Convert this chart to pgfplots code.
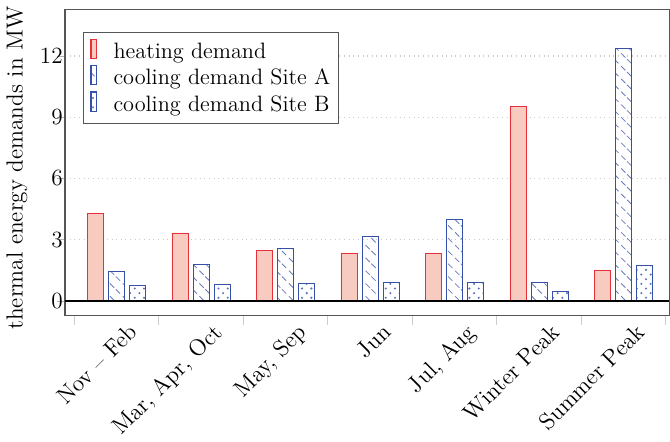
\documentclass[border=0pt]{standalone}
\usepackage{pgfplots}
\pgfplotsset{compat=1.18}
\usetikzlibrary{patterns}

\definecolor{heatred}{HTML}{E8303A}
\definecolor{heatfill}{HTML}{F8CBC0}
\definecolor{coolblue}{HTML}{3550A8}
\definecolor{framegray}{HTML}{555555}

% broken diagonal hatching and staggered dots for the cooling bars
\pgfdeclarepatternformonly{sparse nw lines}{\pgfqpoint{-1pt}{-1pt}}{\pgfqpoint{8pt}{8pt}}{\pgfqpoint{6.6pt}{6.6pt}}{%
  \pgfsetlinewidth{0.4pt}%
  \pgfpathmoveto{\pgfqpoint{0.4pt}{6.2pt}}%
  \pgfpathlineto{\pgfqpoint{2.6pt}{4.0pt}}%
  \pgfpathmoveto{\pgfqpoint{4.0pt}{2.6pt}}%
  \pgfpathlineto{\pgfqpoint{6.2pt}{0.4pt}}%
  \pgfusepath{stroke}}
\pgfdeclarepatternformonly{sparse dots}{\pgfqpoint{-1pt}{-1pt}}{\pgfqpoint{6pt}{6pt}}{\pgfqpoint{4.8pt}{4.8pt}}{%
  \pgfpathcircle{\pgfqpoint{0pt}{0pt}}{0.6pt}%
  \pgfpathcircle{\pgfqpoint{2.4pt}{2.4pt}}{0.6pt}%
  \pgfusepath{fill}}

\pgfplotstableread{
x heat coolA coolB
0 4.30 1.44 0.74
1 3.33 1.79 0.79
2 2.46 2.56 0.86
3 2.35 3.16 0.90
4 2.32 3.99 0.93
5 9.52 0.91 0.47
6 1.49 12.36 1.73
}\demand

\begin{document}
\begin{tikzpicture}[font=\large]
\begin{axis}[
  width=312pt, height=158pt, scale only axis,
  ybar, bar width=0.19, bar shift auto=false,
  xmin=-0.61, xmax=6.54,
  ymin=-0.7, ymax=14.3,
  xtick={0,...,6},
  xticklabels={Nov -- Feb, {Mar, Apr, Oct}, {May, Sep}, Jun, {Jul, Aug}, Winter Peak, Summer Peak},
  x tick label style={xshift=5.5pt, yshift=2pt, rotate=45, anchor=north east, inner sep=1pt, font=\large},
  y tick label style={font=\large, inner xsep=1pt, xshift=4pt},
  major x tick style={draw=none},
  minor xtick={-0.5,0.5,...,6.5},
  minor x tick style={gray!40, thin},
  minor tick length=5pt,
  tick align=outside,
  ytick={0,3,6,9,12},
  y tick style={gray!60},
  major tick length=4pt,
  ymajorgrids,
  major grid style={gray!40, dotted, thick},
  axis line style={framegray, semithick},
  xtick pos=bottom, ytick pos=left,
  ylabel={thermal energy demands in MW},
  ylabel style={font=\large, yshift=2pt, xshift=-3pt},
  legend style={at={(axis description cs:0.03,0.925)}, anchor=north west,
    draw=framegray, semithick, cells={anchor=west},
    font=\fontsize{11.5}{14}\selectfont,
    inner xsep=2pt, inner ysep=3pt},
  legend image code/.code={%
    \draw[#1] (0.06cm,-0.12cm) rectangle (0.16cm,0.23cm);
    \path[draw=none, fill=none, pattern=none] (0,0) -- (0.40cm,0);},
]
\addplot[draw=heatred, fill=heatfill, bar shift=-0.25] table[x=x, y=heat] {\demand};
\addplot[draw=coolblue, pattern=sparse nw lines, pattern color=coolblue!75, bar shift=0] table[x=x, y=coolA] {\demand};
\addplot[draw=coolblue, pattern=sparse dots, pattern color=coolblue!80, bar shift=0.25] table[x=x, y=coolB] {\demand};
\legend{heating demand, cooling demand Site A, cooling demand Site B}
\draw[black, very thick] (axis cs:-0.61,0) -- (axis cs:6.54,0);
\end{axis}
\end{tikzpicture}
\end{document}
